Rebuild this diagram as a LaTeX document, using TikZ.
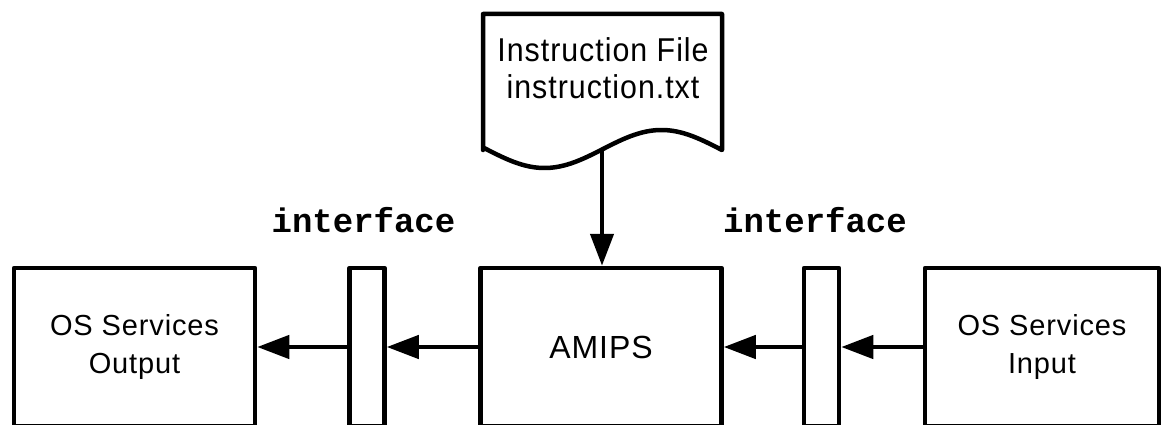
\documentclass[tikz,border=0pt]{standalone}
\usepackage{fontspec}
\setmainfont{Liberation Sans}
\newfontfamily\trk[LetterSpace=3]{Liberation Sans}
\newfontfamily\trkn[LetterSpace=3,FakeStretch=0.92]{Liberation Sans}
\newfontfamily\monob{Liberation Mono}
\usetikzlibrary{arrows.meta}
\begin{document}
\begin{tikzpicture}[x=1pt,y=-1pt, line width=4.5pt, line join=round,
  box/.style={draw, rectangle, minimum height=158pt, inner sep=0pt, align=center, font=\trk\fontsize{29}{38}\selectfont},
  iface/.style={draw, rectangle, minimum width=35pt, minimum height=158pt, inner sep=0pt},
  flow/.style={-{Triangle[length=32pt,width=23pt]}},
  lbl/.style={font=\monob\bfseries\fontsize{34}{34}\selectfont, anchor=base, inner sep=0pt},
  doctext/.style={font=\trkn\fontsize{33}{37}\selectfont, align=center, inner sep=0pt}]
\useasboundingbox (0,0) rectangle (1169,425);
\clip (0,0) rectangle (1169,425);
\node[box, minimum width=241pt] (out) at (134.5,347) {OS Services\\Output};
\node[iface] (if1) at (367,347) {};
\node[box, minimum width=241pt, font=\trk\fontsize{32}{38}\selectfont] (amips) at (601,347) {AMIPS};
\node[iface] (if2) at (821.5,347) {};
\node[box, minimum width=234pt] (in) at (1042,347) {OS Services\\Input};
\node[lbl] (l1) at (363.5,232) {interface};
\node[lbl] (l2) at (815,232) {interface};
\draw (483,150) -- (483,14) -- (722,14) -- (722,150) -- plot[domain=722:483,samples=80] (\x,{149-19*sin((\x-603)*1.5385)}) -- cycle;
\node[doctext] (doc) at (603,68) {Instruction File\\instruction.txt};
\coordinate (docbot) at (602,148);
\draw[flow] (if1.west) -- (out.east);
\draw[flow] (amips.west) -- (if1.east);
\draw[flow] (if2.west) -- (amips.east);
\draw[flow] (in.west) -- (if2.east);
\draw[flow] (docbot) -- (docbot |- amips.north);
\end{tikzpicture}
\end{document}
